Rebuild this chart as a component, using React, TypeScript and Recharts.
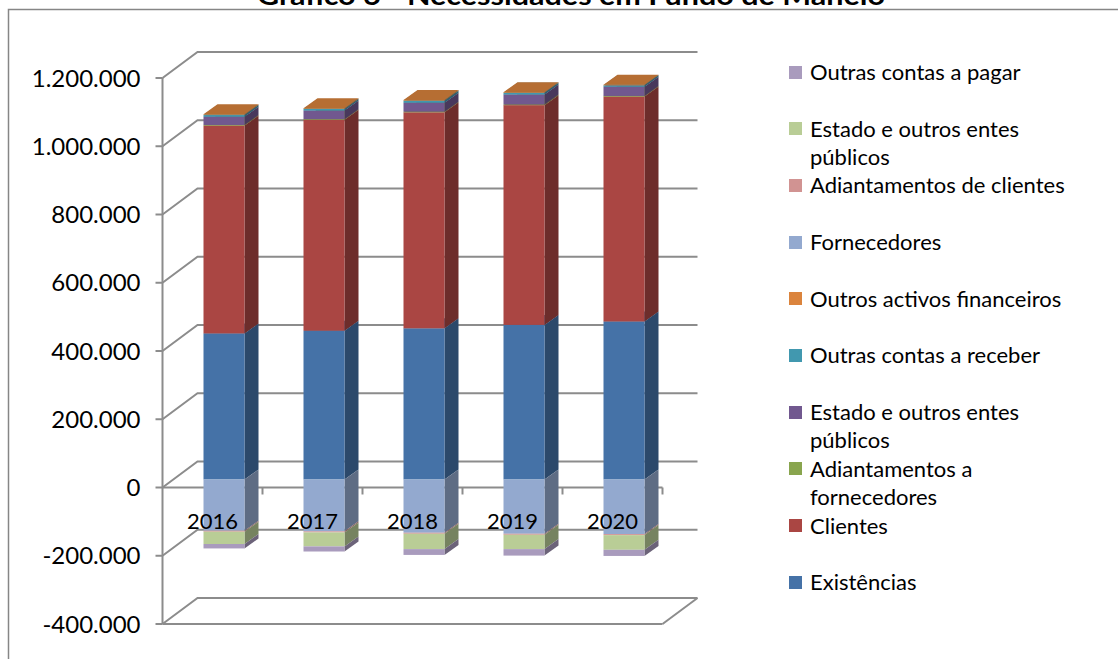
import React from 'react';
import { BarChart, Bar, XAxis, YAxis, CartesianGrid, Legend } from 'recharts';

const years = ['2016', '2017', '2018', '2019', '2020'];

// activo (stacked upwards)
const existencias = [428000, 436000, 443000, 453000, 463000];
const clientes = [609000, 618000, 633000, 644000, 659000];
const adiantamentosFornecedores = [2000, 2000, 2000, 2000, 2000];
const estadoActivo = [24000, 25000, 26000, 29000, 27000];
const outrasContasReceber = [5000, 5000, 6000, 5000, 4000];
const outrosActivosFinanceiros = [2000, 2000, 2000, 2000, 2000];
// passivo (stacked downwards)
const fornecedores = [-150000, -152000, -156000, -159000, -160000];
const adiantamentosClientes = [-3000, -3000, -3000, -3000, -3000];
const estadoPassivo = [-36000, -41000, -45000, -42000, -43000];
const outrasContasPagar = [-13000, -15000, -17000, -19000, -18000];

const seriesNames = [
  'Existências',
  'Clientes',
  'Adiantamentos a fornecedores',
  'Estado e outros entes públicos',
  'Outras contas a receber',
  'Outros activos financeiros',
  'Fornecedores',
  'Adiantamentos de clientes',
  'Estado e outros entes públicos',
  'Outras contas a pagar',
];
const seriesValues = [
  existencias,
  clientes,
  adiantamentosFornecedores,
  estadoActivo,
  outrasContasReceber,
  outrosActivosFinanceiros,
  fornecedores,
  adiantamentosClientes,
  estadoPassivo,
  outrasContasPagar,
];
const seriesColors = [
  '#4572A7', '#AA4643', '#89A54E', '#71588F', '#4198AF',
  '#DB843D', '#93A9CF', '#D19392', '#B9CD96', '#A99BBD',
];

const yTicks = [-400000, -200000, 0, 200000, 400000, 600000, 800000, 1000000, 1200000];

const data = years.map((year, i) => {
  const row: Record<string, any> = { year };
  seriesValues.forEach((vals, s) => {
    row[`s${s}`] = vals[i];
  });
  return row;
});

// layout
const W = 1118;
const H = 659;
const PLOT_LEFT = 173.5;
const PLOT_TOP = 70;
const PLOT_W = 500;
const PLOT_H = 546;
const X_AXIS_H = 30;
const Y_MIN = -400000;
const Y_MAX = 1200000;
const ZERO_Y = PLOT_TOP + (PLOT_H * Y_MAX) / (Y_MAX - Y_MIN);
const FRONT = { dx: -11, dy: 8 }; // front wall relative to bar plane
const BACK = { dx: 24, dy: -18 }; // back wall relative to bar plane
const BAR_DEPTH = { dx: 14, dy: 10 };
const GRID = '#8c8c8c';
const FONT = 'Lato, "Open Sans", sans-serif';

const fmt = (v: number) => {
  const s = Math.abs(v).toString().replace(/\B(?=(\d{3})+(?!\d))/g, '.');
  return v < 0 ? `-${s}` : s;
};

const shade = (hex: string, f: number) => {
  const n = parseInt(hex.slice(1), 16);
  const r = Math.round(((n >> 16) & 255) * f);
  const g = Math.round(((n >> 8) & 255) * f);
  const b = Math.round((n & 255) * f);
  return `rgb(${r},${g},${b})`;
};

// 3D box for one stacked segment
const makeBox = (color: string, negative: boolean) => (props: any) => {
  const { x, y, width, height } = props;
  if (x == null || y == null || !width || height == null) return <g />;
  const top = Math.min(y, y + height);
  const h = Math.abs(height);
  const { dx, dy } = BAR_DEPTH;
  const side = `${x + width},${top} ${x + width + dx},${top - dy} ${x + width + dx},${top + h - dy} ${x + width},${top + h}`;
  const cap = `${x},${top} ${x + width},${top} ${x + width + dx},${top - dy} ${x + dx},${top - dy}`;
  return (
    <g>
      <polygon points={side} fill={shade(color, 0.64)} />
      {!negative && <polygon points={cap} fill={shade(color, 0.83)} />}
      <rect x={x} y={top} width={width} height={h} fill={color} />
    </g>
  );
};

// gridlines drawn as front tick -> back wall
const gridLine = (props: any) => {
  const { x1, x2, y1, key } = props;
  const fx = x1 + FRONT.dx;
  const fy = y1 + FRONT.dy;
  const bx1 = x1 + BACK.dx;
  const bx2 = x2 + BACK.dx;
  const by = y1 + BACK.dy;
  const isZero = Math.abs(y1 - ZERO_Y) < 0.5;
  const isFloor = Math.abs(y1 - (PLOT_TOP + PLOT_H)) < 0.5;
  const isTop = Math.abs(y1 - PLOT_TOP) < 0.5;
  const fx2 = x2 + FRONT.dx;
  return (
    <g key={key}>
      <polyline points={`${fx},${fy} ${bx1},${by} ${bx2},${by}`} fill="none" stroke={GRID} strokeWidth={2} />
      {(isZero || isFloor) && (
        <line x1={fx} y1={fy} x2={fx2} y2={fy} stroke={GRID} strokeWidth={2} />
      )}
      {isFloor && <line x1={fx2} y1={fy} x2={bx2} y2={by} stroke={GRID} strokeWidth={2} />}
      {isTop && (
        <line x1={fx} y1={fy} x2={fx} y2={PLOT_TOP + PLOT_H + FRONT.dy} stroke={GRID} strokeWidth={2} />
      )}
    </g>
  );
};

const ValueTick = (props: any) => {
  const { y, payload } = props;
  const fx = PLOT_LEFT + FRONT.dx;
  const fy = y + FRONT.dy;
  return (
    <g>
      <line x1={fx - 7} y1={fy} x2={fx} y2={fy} stroke={GRID} strokeWidth={2} />
      <text x={fx - 22} y={fy} dy="0.36em" textAnchor="end" fontSize={24} fontFamily={FONT} fill="#000">
        {fmt(payload.value)}
      </text>
    </g>
  );
};

const CategoryTick = (props: any) => {
  const { x, payload } = props;
  const band = PLOT_W / years.length;
  const fx = x + FRONT.dx;
  const fy = ZERO_Y + FRONT.dy;
  return (
    <g>
      <line x1={fx + band / 2} y1={fy} x2={fx + band / 2} y2={fy + 7} stroke={GRID} strokeWidth={2} />
      <text x={fx} y={fy + 41.5} textAnchor="middle" fontSize={22} fontFamily={FONT} fill="#000">
        {payload.value}
      </text>
    </g>
  );
};

const LEGEND_ROW = 56.7;

const LegendBox = () => {
  const order = seriesNames.map((_, i) => i).reverse();
  return (
    <div style={{ fontFamily: FONT, fontSize: 22, color: '#000' }}>
      {order.map((s) => (
        <div key={s} style={{ position: 'relative', height: LEGEND_ROW }}>
          <span
            style={{
              position: 'absolute',
              left: 0,
              top: 7.5,
              width: 13,
              height: 13,
              background: seriesColors[s],
            }}
          />
          <div style={{ position: 'absolute', left: 21, top: 0, width: 289, lineHeight: '28px', whiteSpace: 'normal' }}>
            {seriesNames[s]}
          </div>
        </div>
      ))}
    </div>
  );
};

export default function App() {
  return (
    <div style={{ position: 'absolute', left: 0, top: 0, width: W, height: H, background: '#fff', overflow: 'hidden' }}>
      <svg width={W} height={H} style={{ position: 'absolute', left: 0, top: 0 }}>
        <text
          x={571}
          y={5}
          textAnchor="middle"
          fontFamily={FONT}
          fontWeight="bold"
          fontSize={26}
          textLength={628}
          lengthAdjust="spacingAndGlyphs"
          fill="#000"
        >
          Gráfico 6 - Necessidades em Fundo de Maneio
        </text>
        <path d={`M 8.5 ${H} L 8.5 9.5 L ${W} 9.5`} fill="none" stroke="#868686" strokeWidth={1.5} />
      </svg>
      <div style={{ position: 'absolute', left: 0, top: 0 }}>
        <BarChart
          width={W}
          height={H}
          data={data}
          stackOffset="sign"
          margin={{ top: PLOT_TOP, right: W - PLOT_LEFT - PLOT_W, bottom: H - PLOT_TOP - PLOT_H - X_AXIS_H, left: 0 }}
        >
          <CartesianGrid vertical={false} horizontal={gridLine} />
          {seriesNames.map((name, s) => (
            <Bar
              key={s}
              dataKey={`s${s}`}
              name={name}
              stackId="a"
              fill={seriesColors[s]}
              barSize={41}
              isAnimationActive={false}
              shape={makeBox(seriesColors[s], s >= 6)}
            />
          ))}
          <XAxis
            dataKey="year"
            height={X_AXIS_H}
            axisLine={false}
            tickLine={false}
            interval={0}
            tick={<CategoryTick />}
          />
          <YAxis
            width={PLOT_LEFT}
            domain={[Y_MIN, Y_MAX]}
            ticks={yTicks}
            interval={0}
            axisLine={false}
            tickLine={false}
            tick={<ValueTick />}
          />
          <Legend
            layout="vertical"
            align="center"
            verticalAlign="middle"
            content={() => <LegendBox />}
            wrapperStyle={{ left: 789, top: 58, width: 329, height: 570 }}
          />
        </BarChart>
      </div>
    </div>
  );
}
